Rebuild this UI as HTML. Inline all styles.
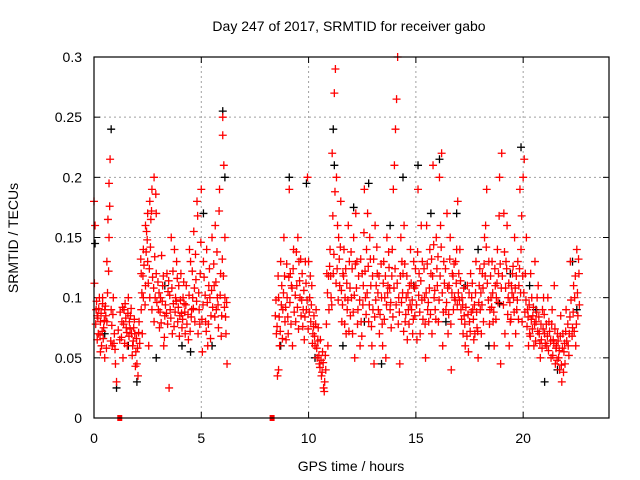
<!DOCTYPE html>
<html><head><meta charset="utf-8"><style>
body{margin:0;background:#fff;}
svg{display:block;font-family:"Liberation Sans",sans-serif;}
</style></head><body>
<svg id="chart" width="640" height="480">
<text x="349" y="31" font-size="14" text-anchor="middle" fill="#000">Day 247 of 2017, SRMTID for receiver gabo</text>
<text x="351" y="471" font-size="14" text-anchor="middle">GPS time / hours</text>
<text transform="translate(18,238) rotate(-90)" font-size="14" text-anchor="middle">SRMTID / TECUs</text>
<g id="grid"></g><g id="ticks"></g><g id="black"></g><g id="red"></g>
<rect x="94" y="57" width="515" height="361" fill="none" stroke="#000" stroke-width="1.2"/>
</svg>
<script>
const xTicks=[0,5,10,15,20];
const yTicks=[0,0.05,0.1,0.15,0.2,0.25,0.3];
const yTickLabels=["0","0.05","0.1","0.15","0.2","0.25","0.3"];
const redSeries=[[0.0,0.18],[0.05,0.16],[0.1,0.09],[0.15,0.085],[0.2,0.07],[0.25,0.1],[0.3,0.08],[0.35,0.06],[0.4,0.095],[0.45,0.075],[0.5,0.05],[0.55,0.085],[0.6,0.13],[0.65,0.165],[0.7,0.195],[0.75,0.215],[0.8,0.09],[0.85,0.06],[0.9,0.1],[0.95,0.07],[1.0,0.045],[1.05,0.03],[0.3,0.055],[0.5,0.09],[0.7,0.15],[0.15,0.065],[0.4,0.1],[0.6,0.08],
[1.2,0.065],[1.3,0.08],[1.4,0.09],[1.5,0.075],[1.6,0.1],[1.7,0.085],[1.8,0.06],[1.9,0.07],[2.0,0.045],[2.05,0.035],[1.35,0.05],[1.55,0.06],[1.75,0.07],[1.95,0.055],[1.45,0.095],[1.65,0.08],[1.85,0.075],[2.1,0.08],
[2.2,0.12],[2.3,0.14],[2.4,0.16],[2.5,0.17],[2.6,0.18],[2.7,0.19],[2.8,0.2],[2.9,0.17],[2.2,0.09],[2.3,0.1],[2.4,0.11],[2.5,0.13],[2.6,0.1],[2.7,0.09],[2.8,0.08],[2.9,0.12],[2.25,0.07],[2.55,0.06],[2.85,0.1],[2.45,0.155],[2.65,0.165],
[3.0,0.09],[3.1,0.1],[3.2,0.11],[3.3,0.085],[3.4,0.12],[3.5,0.025],[3.6,0.15],[3.7,0.095],[3.8,0.1],[3.9,0.08],[3.05,0.075],[3.25,0.06],[3.45,0.105],[3.65,0.07],[3.85,0.13],[3.95,0.11],[3.15,0.135],[3.55,0.09],[3.75,0.14],
[4.0,0.085],[4.1,0.075],[4.2,0.095],[4.3,0.11],[4.4,0.065],[4.5,0.13],[4.6,0.1],[4.7,0.08],[4.8,0.18],[4.9,0.09],[4.05,0.12],[4.25,0.07],[4.45,0.14],[4.65,0.155],[4.85,0.07],[4.95,0.12],[4.15,0.1],[4.55,0.09],[4.75,0.115],
[5.0,0.19],[5.1,0.13],[5.2,0.08],[5.3,0.06],[5.4,0.1],[5.5,0.15],[5.6,0.11],[5.7,0.09],[5.8,0.075],[5.9,0.12],[6.0,0.25],[6.0,0.235],[6.05,0.21],[6.1,0.1],[6.15,0.07],[6.2,0.045],[5.05,0.055],[5.25,0.14],[5.45,0.085],[5.65,0.16],[5.85,0.19],[5.95,0.085],[5.35,0.11],[5.75,0.1],[6.1,0.15],
[8.5,0.07],[8.6,0.1],[8.7,0.13],[8.8,0.09],[8.9,0.08],[8.55,0.035],[8.65,0.06],[8.75,0.11],[8.85,0.15],[8.95,0.065],[8.45,0.085],[8.6,0.04],
[9.0,0.1],[9.1,0.19],[9.2,0.11],[9.3,0.14],[9.4,0.08],[9.5,0.15],[9.6,0.1],[9.7,0.12],[9.8,0.065],[9.9,0.09],[9.95,0.2],[9.05,0.07],[9.25,0.06],[9.45,0.11],[9.65,0.085],[9.85,0.13],[9.15,0.12],[9.55,0.13],[9.75,0.09],
[10.0,0.13],[10.1,0.08],[10.2,0.07],[10.3,0.06],[10.4,0.05],[10.5,0.045],[10.6,0.035],[10.7,0.025],[10.8,0.04],[10.9,0.06],[10.95,0.09],[10.05,0.1],[10.15,0.11],[10.25,0.085],[10.45,0.075],[10.55,0.065],[10.65,0.055],[10.75,0.03],[10.85,0.12],[10.35,0.09],
[11.0,0.14],[11.1,0.22],[11.2,0.27],[11.25,0.29],[11.3,0.2],[11.4,0.15],[11.5,0.18],[11.6,0.12],[11.7,0.1],[11.8,0.09],[11.9,0.13],[11.05,0.1],[11.15,0.12],[11.35,0.16],[11.45,0.11],[11.55,0.08],[11.65,0.14],[11.75,0.07],[11.85,0.16],[11.95,0.085],
[12.0,0.1],[12.1,0.15],[12.2,0.17],[12.3,0.09],[12.4,0.06],[12.5,0.12],[12.6,0.19],[12.7,0.14],[12.8,0.08],[12.9,0.11],[12.05,0.07],[12.25,0.13],[12.45,0.08],[12.65,0.1],[12.85,0.15],[12.15,0.05],[12.55,0.11],[12.75,0.17],[12.95,0.06],
[13.0,0.09],[13.1,0.16],[13.2,0.12],[13.3,0.07],[13.4,0.1],[13.5,0.13],[13.6,0.05],[13.7,0.11],[13.8,0.09],[13.9,0.14],[14.0,0.21],[14.05,0.24],[14.1,0.265],[14.15,0.3],[13.05,0.045],[13.25,0.09],[13.45,0.06],[13.65,0.15],[13.85,0.075],[13.15,0.11],[13.55,0.1],[13.75,0.125],[13.95,0.19],
[14.2,0.1],[14.3,0.15],[14.4,0.12],[14.5,0.08],[14.6,0.065],[14.7,0.11],[14.8,0.09],[14.9,0.13],[14.25,0.045],[14.45,0.16],[14.65,0.09],[14.85,0.07],[14.35,0.13],[14.55,0.1],[14.75,0.14],[14.95,0.085],
[15.0,0.11],[15.1,0.19],[15.2,0.07],[15.3,0.13],[15.4,0.1],[15.5,0.16],[15.6,0.08],[15.7,0.12],[15.8,0.21],[15.9,0.09],[15.05,0.065],[15.25,0.16],[15.45,0.05],[15.65,0.14],[15.85,0.1],[15.15,0.12],[15.55,0.09],[15.75,0.07],[15.95,0.15],
[16.0,0.11],[16.1,0.2],[16.2,0.22],[16.3,0.13],[16.4,0.09],[16.5,0.07],[16.6,0.15],[16.7,0.12],[16.8,0.1],[16.9,0.14],[16.05,0.08],[16.25,0.06],[16.45,0.17],[16.65,0.04],[16.85,0.13],[16.15,0.16],[16.55,0.11],[16.75,0.09],[16.95,0.18],
[17.0,0.12],[17.1,0.09],[17.2,0.07],[17.3,0.06],[17.4,0.11],[17.5,0.08],[17.6,0.1],[17.7,0.065],[17.8,0.13],[17.9,0.05],[17.05,0.14],[17.25,0.085],[17.45,0.055],[17.65,0.09],[17.85,0.075],[17.15,0.1],[17.55,0.12],[17.75,0.07],[17.95,0.11],
[18.0,0.09],[18.1,0.12],[18.2,0.15],[18.3,0.19],[18.4,0.13],[18.5,0.1],[18.6,0.08],[18.7,0.11],[18.8,0.14],[18.9,0.2],[19.0,0.22],[18.05,0.07],[18.25,0.16],[18.45,0.09],[18.65,0.06],[18.85,0.12],[18.15,0.08],[18.55,0.13],[18.75,0.1],[18.95,0.045],
[19.1,0.17],[19.2,0.13],[19.3,0.1],[19.4,0.08],[19.5,0.12],[19.6,0.15],[19.7,0.09],[19.8,0.11],[19.9,0.14],[20.0,0.2],[20.05,0.215],[19.15,0.07],[19.35,0.06],[19.55,0.1],[19.75,0.13],[19.95,0.08],[19.25,0.16],[19.45,0.11],[19.65,0.07],[19.85,0.19],
[20.1,0.12],[20.2,0.09],[20.3,0.07],[20.4,0.1],[20.5,0.06],[20.6,0.08],[20.7,0.11],[20.8,0.05],[20.9,0.09],[21.0,0.07],[20.15,0.15],[20.35,0.12],[20.55,0.13],[20.75,0.07],[20.95,0.1],[20.25,0.06],[20.45,0.085],[20.65,0.1],[20.85,0.065],
[21.1,0.06],[21.2,0.08],[21.3,0.05],[21.4,0.065],[21.5,0.045],[21.6,0.07],[21.7,0.04],[21.8,0.03],[21.9,0.055],[22.0,0.09],[22.1,0.06],[22.2,0.13],[22.3,0.075],[22.4,0.1],[22.5,0.14],[22.6,0.12],[21.15,0.1],[21.35,0.09],[21.55,0.06],[21.75,0.085],[21.95,0.045],[22.15,0.07],[22.35,0.11],[22.45,0.06],[22.55,0.085],[21.45,0.11],[21.65,0.05],[21.85,0.07]];
const redSeries2=[[0.02,0.112],[0.08,0.078],[0.12,0.097],[0.18,0.083],[0.22,0.091],[0.28,0.069],[0.33,0.087],[0.38,0.072],[0.43,0.066],[0.48,0.081],[0.53,0.093],[0.58,0.058],[0.63,0.104],[0.68,0.122],[0.73,0.176],[0.78,0.064],[0.83,0.077],[0.88,0.086],[0.93,0.062],[0.98,0.057],
[1.13,0.073],[1.22,0.088],[1.28,0.067],[1.33,0.092],[1.38,0.078],[1.43,0.062],[1.48,0.083],[1.53,0.071],[1.58,0.087],[1.63,0.068],[1.68,0.074],[1.73,0.091],[1.78,0.052],[1.83,0.064],[1.88,0.082],[1.93,0.043],[1.98,0.066],[2.03,0.058],[2.08,0.071],[2.13,0.062],
[2.18,0.132],[2.23,0.104],[2.28,0.118],[2.33,0.127],[2.38,0.094],[2.43,0.138],[2.48,0.148],[2.53,0.112],[2.58,0.124],[2.63,0.142],[2.68,0.172],[2.73,0.117],[2.78,0.108],[2.83,0.134],[2.88,0.186],[2.93,0.096],[2.98,0.113],
[3.03,0.104],[3.08,0.088],[3.13,0.079],[3.18,0.097],[3.23,0.118],[3.28,0.067],[3.33,0.094],[3.38,0.087],[3.43,0.078],[3.48,0.114],[3.53,0.102],[3.58,0.083],[3.63,0.108],[3.68,0.122],[3.73,0.076],[3.78,0.088],[3.83,0.097],[3.88,0.116],[3.93,0.092],[3.98,0.068],
[4.03,0.098],[4.08,0.087],[4.13,0.082],[4.18,0.113],[4.23,0.088],[4.28,0.094],[4.33,0.078],[4.38,0.086],[4.43,0.102],[4.48,0.072],[4.53,0.084],[4.58,0.122],[4.63,0.091],[4.68,0.108],[4.73,0.136],[4.78,0.097],[4.83,0.168],[4.88,0.104],[4.93,0.078],[4.98,0.146],
[5.03,0.082],[5.08,0.094],[5.13,0.117],[5.18,0.102],[5.23,0.072],[5.28,0.096],[5.33,0.078],[5.38,0.124],[5.43,0.066],[5.48,0.106],[5.53,0.092],[5.58,0.128],[5.63,0.084],[5.68,0.113],[5.73,0.138],[5.78,0.094],[5.83,0.172],[5.88,0.102],[5.93,0.068],[5.98,0.132],[6.03,0.118],[6.08,0.092],[6.13,0.084],[6.18,0.096],
[8.48,0.098],[8.53,0.076],[8.58,0.118],[8.63,0.084],[8.68,0.072],[8.73,0.094],[8.78,0.066],[8.83,0.104],[8.88,0.118],[8.93,0.092],[8.98,0.128],
[9.03,0.084],[9.08,0.117],[9.13,0.096],[9.18,0.078],[9.23,0.108],[9.28,0.124],[9.33,0.088],[9.38,0.102],[9.43,0.138],[9.48,0.092],[9.53,0.074],[9.58,0.114],[9.63,0.132],[9.68,0.098],[9.73,0.076],[9.78,0.106],[9.83,0.084],[9.88,0.112],[9.93,0.098],[9.98,0.074],
[10.03,0.088],[10.08,0.118],[10.13,0.094],[10.18,0.062],[10.23,0.076],[10.28,0.068],[10.33,0.078],[10.38,0.058],[10.43,0.064],[10.48,0.052],[10.53,0.042],[10.58,0.048],[10.63,0.038],[10.68,0.046],[10.73,0.022],[10.78,0.052],[10.83,0.078],[10.88,0.104],[10.93,0.118],[10.98,0.126],
[11.03,0.118],[11.08,0.094],[11.13,0.168],[11.18,0.136],[11.23,0.188],[11.28,0.112],[11.33,0.124],[11.38,0.098],[11.43,0.132],[11.48,0.142],[11.53,0.106],[11.58,0.094],[11.63,0.118],[11.68,0.078],[11.73,0.124],[11.78,0.112],[11.83,0.098],[11.88,0.072],[11.93,0.108],[11.98,0.138],
[12.03,0.124],[12.08,0.088],[12.13,0.102],[12.18,0.128],[12.23,0.108],[12.28,0.078],[12.33,0.118],[12.38,0.098],[12.43,0.132],[12.48,0.068],[12.53,0.094],[12.58,0.154],[12.63,0.122],[12.68,0.086],[12.73,0.104],[12.78,0.126],[12.83,0.094],[12.88,0.132],[12.93,0.076],[12.98,0.118],
[13.03,0.132],[13.08,0.084],[13.13,0.098],[13.18,0.142],[13.23,0.104],[13.28,0.118],[13.33,0.086],[13.38,0.128],[13.43,0.078],[13.48,0.112],[13.53,0.082],[13.58,0.118],[13.63,0.094],[13.68,0.104],[13.73,0.138],[13.78,0.108],[13.83,0.096],[13.88,0.118],[13.93,0.084],[13.98,0.108],
[14.03,0.124],[14.08,0.094],[14.13,0.112],[14.18,0.078],[14.23,0.088],[14.28,0.118],[14.33,0.096],[14.38,0.104],[14.43,0.072],[14.48,0.128],[14.53,0.086],[14.58,0.118],[14.63,0.104],[14.68,0.078],[14.73,0.094],[14.78,0.112],[14.83,0.098],[14.88,0.082],[14.93,0.108],[14.98,0.124],
[15.03,0.094],[15.08,0.138],[15.13,0.102],[15.18,0.088],[15.23,0.114],[15.28,0.098],[15.33,0.082],[15.38,0.124],[15.43,0.078],[15.48,0.104],[15.53,0.128],[15.58,0.096],[15.63,0.108],[15.68,0.086],[15.73,0.132],[15.78,0.118],[15.83,0.144],[15.88,0.106],[15.93,0.082],[15.98,0.124],
[16.03,0.134],[16.08,0.098],[16.13,0.118],[16.18,0.142],[16.23,0.104],[16.28,0.088],[16.33,0.112],[16.38,0.124],[16.43,0.096],[16.48,0.108],[16.53,0.086],[16.58,0.132],[16.63,0.078],[16.68,0.104],[16.73,0.118],[16.78,0.128],[16.83,0.098],[16.88,0.112],[16.93,0.094],[16.98,0.104],
[17.03,0.098],[17.08,0.114],[17.13,0.082],[17.18,0.094],[17.23,0.108],[17.28,0.078],[17.33,0.092],[17.38,0.068],[17.43,0.086],[17.48,0.104],[17.53,0.072],[17.58,0.088],[17.63,0.112],[17.68,0.082],[17.73,0.094],[17.78,0.104],[17.83,0.088],[17.88,0.072],[17.93,0.096],[17.98,0.124],
[18.03,0.104],[18.08,0.094],[18.13,0.108],[18.18,0.128],[18.23,0.118],[18.28,0.142],[18.33,0.112],[18.38,0.098],[18.43,0.078],[18.48,0.118],[18.53,0.092],[18.58,0.104],[18.63,0.088],[18.68,0.124],[18.73,0.082],[18.78,0.112],[18.83,0.096],[18.88,0.168],[18.93,0.128],[18.98,0.108],
[19.03,0.118],[19.08,0.094],[19.13,0.138],[19.18,0.108],[19.23,0.124],[19.28,0.086],[19.33,0.112],[19.38,0.096],[19.43,0.082],[19.48,0.104],[19.53,0.126],[19.58,0.088],[19.63,0.108],[19.68,0.118],[19.73,0.098],[19.78,0.082],[19.83,0.124],[19.88,0.104],[19.93,0.168],[19.98,0.118],
[20.03,0.104],[20.08,0.088],[20.13,0.098],[20.18,0.076],[20.23,0.084],[20.28,0.094],[20.33,0.068],[20.38,0.082],[20.43,0.074],[20.48,0.092],[20.53,0.078],[20.58,0.064],[20.63,0.088],[20.68,0.072],[20.73,0.084],[20.78,0.062],[20.83,0.078],[20.88,0.058],[20.93,0.074],[20.98,0.086],
[21.03,0.062],[21.08,0.078],[21.13,0.068],[21.18,0.056],[21.23,0.072],[21.28,0.064],[21.33,0.078],[21.38,0.052],[21.43,0.062],[21.48,0.074],[21.53,0.058],[21.58,0.048],[21.63,0.064],[21.68,0.056],[21.73,0.068],[21.78,0.044],[21.83,0.058],[21.88,0.038],[21.93,0.062],[21.98,0.072],
[22.03,0.064],[22.08,0.078],[22.13,0.052],[22.18,0.084],[22.23,0.098],[22.28,0.068],[22.33,0.088],[22.38,0.072],[22.43,0.118],[22.48,0.078],[22.53,0.104],[22.58,0.132],[22.62,0.094]];
const blackSeries=[[0.05,0.145],[0.8,0.24],[1.05,0.025],[2.0,0.03],[2.9,0.05],[4.5,0.055],[6.0,0.255],[5.1,0.17],[6.1,0.2],[9.1,0.2],[9.9,0.195],[11.15,0.24],[11.2,0.21],[12.1,0.175],[12.8,0.195],[13.4,0.045],[14.4,0.2],[15.1,0.21],[15.7,0.17],[16.1,0.215],[16.9,0.17],[17.9,0.14],[18.9,0.095],[19.9,0.225],[20.6,0.09],[21.0,0.03],[22.5,0.09],[0.5,0.07],[1.6,0.06],[3.3,0.11],[4.1,0.06],[5.5,0.06],[8.7,0.06],[10.3,0.05],[11.6,0.06],[12.6,0.08],[13.8,0.16],[14.9,0.11],[16.4,0.08],[17.3,0.11],[18.4,0.06],[19.4,0.12],[20.3,0.11],[21.6,0.04],[22.3,0.13]];
const gapMarkers=[1.2,8.3];
const NS="http://www.w3.org/2000/svg";
const X0=94,X1=609,Y0=418,Y1=57,XMAX=24,YMAX=0.3;
function sx(v){return X0+(X1-X0)*v/XMAX;}
function sy(v){return Y0-(Y0-Y1)*v/YMAX;}
function mk(tag,attrs,parent){const e=document.createElementNS(NS,tag);for(const k in attrs)e.setAttribute(k,attrs[k]);parent.appendChild(e);return e;}
const grid=document.getElementById('grid'),ticks=document.getElementById('ticks');
xTicks.forEach(t=>{
  const x=sx(t);
  if(t>0){const g=mk('line',{x1:x,x2:x,y1:Y0,y2:Y1,stroke:'#a0a0a0','stroke-dasharray':'2,3'},grid);
  
  }
  mk('line',{x1:x,x2:x,y1:Y0,y2:Y0-6,stroke:'#000'},ticks);
  mk('line',{x1:x,x2:x,y1:Y1,y2:Y1+6,stroke:'#000'},ticks);
  const l=mk('text',{x:x,y:443,'font-size':14,'text-anchor':'middle'},ticks);l.textContent=t;
  
  
});
yTicks.forEach((t,i)=>{
  const y=sy(t);
  if(t>0){const g=mk('line',{x1:X0,x2:X1,y1:y,y2:y,stroke:'#a0a0a0','stroke-dasharray':'2,3'},grid);
  
  }
  mk('line',{x1:X0,x2:X0+6,y1:y,y2:y,stroke:'#000'},ticks);
  mk('line',{x1:X1,x2:X1-6,y1:y,y2:y,stroke:'#000'},ticks);
  const l=mk('text',{x:82,y:y+5,'font-size':14,'text-anchor':'end'},ticks);l.textContent=yTickLabels[i];
  
  
});
function plus(parent,p,color,name){
  const x=sx(p[0]),y=sy(p[1]);
  const e=mk('path',{d:`M${x-4},${y}H${x+4}M${x},${y-4}V${y+4}`,stroke:color,'stroke-width':1.3,fill:'none'},parent);
  
  
}
const bg=document.getElementById('black'),rg=document.getElementById('red');
blackSeries.forEach(p=>plus(bg,p,'#000','black-point'));
redSeries.forEach(p=>plus(rg,p,'#ff0000','red-point'));
redSeries2.forEach(p=>plus(rg,p,'#ff0000','red-point'));
gapMarkers.forEach(t=>{
  const r=mk('rect',{x:sx(t)-2.5,y:Y0-3,width:5,height:6,fill:'#ff0000'},rg);
  
  
});
</script>
</body></html>
